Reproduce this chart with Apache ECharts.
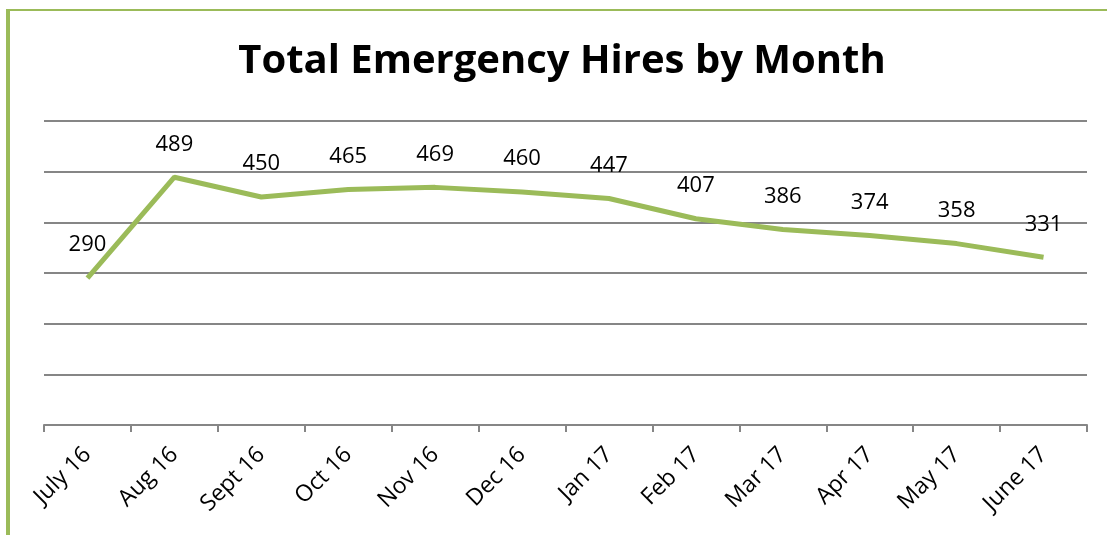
<!DOCTYPE html>
<html>
<head>
<meta charset="utf-8">
<script src="https://cdn.jsdelivr.net/npm/echarts@6/dist/echarts.min.js"></script>
<style>
  html, body { margin: 0; padding: 0; background: #fff; }
  #frame {
    position: absolute; left: 6px; top: 9px; width: 1101px; height: 526px;
    border-left: 4px solid #9BBB59; border-top: 2px solid #9BBB59;
    box-sizing: border-box;
  }
  #chart { position: absolute; left: 0; top: 0; width: 1107px; height: 535px; }
</style>
</head>
<body>
<div id="frame"></div>
<div id="chart"></div>
<script>
// ─── Data ─────────────────────────────────────────────────────────────────
const months = ["July 16", "Aug 16", "Sept 16", "Oct 16", "Nov 16", "Dec 16",
                "Jan 17", "Feb 17", "Mar 17", "Apr 17", "May 17", "June 17"];
const hires = [290, 489, 450, 465, 469, 460, 447, 407, 386, 374, 358, 331];

const FONT = "'Open Sans', 'Liberation Sans', sans-serif";

// ─── Chart ────────────────────────────────────────────────────────────────
const chart = echarts.init(document.getElementById('chart'));

chart.setOption({
  animation: false,
  title: {
    text: 'Total Emergency Hires by Month',
    left: 557,
    textAlign: 'center',
    top: 37,
    textStyle: { fontFamily: FONT, fontSize: 40, fontWeight: 'bold', color: '#000' }
  },
  grid: { left: 44, right: 20, top: 121, bottom: 110 },
  xAxis: {
    type: 'category',
    data: months,
    boundaryGap: true,
    axisLine: { lineStyle: { color: '#868686', width: 2 } },
    axisTick: { show: true, length: 7, lineStyle: { color: '#868686', width: 2 } },
    axisLabel: {
      rotate: 45, margin: 26, interval: 0,
      fontFamily: FONT, fontSize: 23, color: '#000'
    }
  },
  yAxis: {
    type: 'value',
    min: 0, max: 600, interval: 100,
    axisLabel: { show: false },
    axisLine: { show: false },
    axisTick: { show: false },
    splitLine: { lineStyle: { color: '#868686', width: 2 } }
  },
  series: [{
    type: 'line',
    data: hires,
    symbol: 'circle',
    symbolSize: 2,
    showSymbol: true,
    itemStyle: { color: 'transparent', borderWidth: 0 },
    lineStyle: { color: '#9BBB59', width: 5 },
    label: {
      show: true, position: 'top', distance: 21,
      fontFamily: FONT, fontSize: 22, color: '#000'
    },
    labelLayout: { hideOverlap: false }
  }]
});
</script>
</body>
</html>
